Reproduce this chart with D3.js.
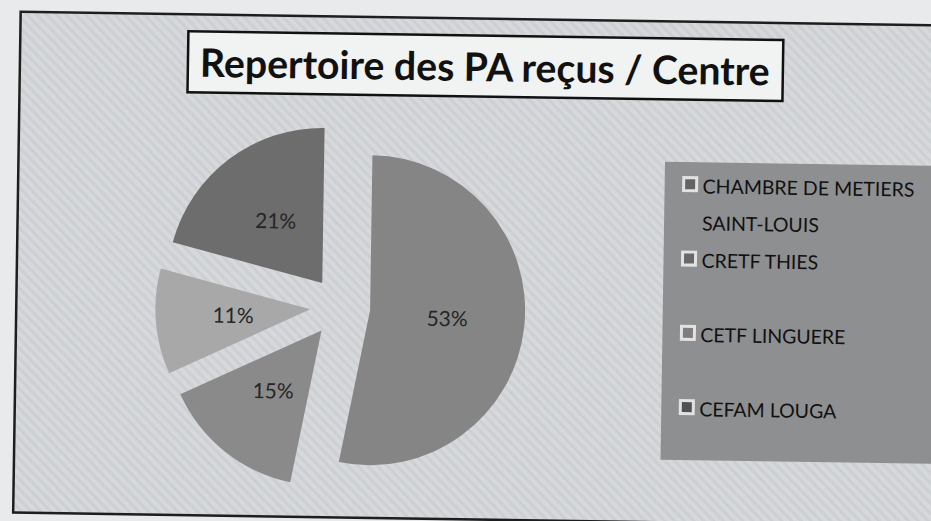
<!DOCTYPE html>
<html>
<head>
<meta charset="utf-8">
<script src="https://cdn.jsdelivr.net/npm/d3@7"></script>
<style>
  html, body { margin: 0; padding: 0; background: #e9eaec; }
  svg { display: block; }
</style>
</head>
<body>
<div id="chart"></div>
<script>
(function() {
  'use strict';

  // data
  var categories = ["CHAMBRE DE METIERS SAINT-LOUIS", "CRETF THIES", "CETF LINGUERE", "CEFAM LOUGA"];
  var values = [53, 15, 11, 21];
  var titleText = "Repertoire des PA reçus / Centre";

  var width = 931, height = 521,
      center = {x: 341, y: 309},
      radius = 155,
      explode = 30;

  var color = d3.scaleOrdinal()
    .domain(categories)
    .range(["#858585", "#8a8a8a", "#a8a8a8", "#6d6d6d"]);

  var svg = d3.select("#chart")
    .append("svg")
    .attr("width", width)
    .attr("height", height);

  // faint diagonal moire of the scan
  var defs = svg.append("defs");
  var hatch = defs.append("pattern")
    .attr("id", "hatch")
    .attr("patternUnits", "userSpaceOnUse")
    .attr("width", 7)
    .attr("height", 7)
    .attr("patternTransform", "rotate(-45)");
  hatch.append("rect").attr("width", 7).attr("height", 7).attr("fill", "#d6d8db");
  hatch.append("rect").attr("width", 3).attr("height", 7).attr("fill", "#cdd0d3");

  // whole page is slightly tilted in the scan
  var root = svg.append("g")
    .attr("transform", "rotate(0.86, 475, 260)");

  root.append("rect")
    .attr("x", 17)
    .attr("y", 18.5)
    .attr("width", 960)
    .attr("height", 501)
    .attr("fill", "url(#hatch)")
    .attr("stroke", "#1e1e1e")
    .attr("stroke-width", 2.5);

  // title box
  root.append("rect")
    .attr("x", 185)
    .attr("y", 35.5)
    .attr("width", 595)
    .attr("height", 61)
    .attr("fill", "#f1f2f2")
    .attr("stroke", "#111")
    .attr("stroke-width", 2.5);

  var title = root.append("text")
    .attr("x", 482)
    .attr("y", 81)
    .attr("text-anchor", "middle")
    .attr("font-family", "Lato, 'Open Sans', sans-serif")
    .attr("font-weight", "bold")
    .attr("font-size", "36px")
    .attr("fill", "#111")
    .text(titleText);
  var tl = title.node().getComputedTextLength();
  title.attr("font-size", (36 * 570 / tl) + "px");

  // exploded pie
  var pie = d3.pie().sort(null).value(function(d) { return d; });
  var arc = d3.arc().innerRadius(0).outerRadius(radius);
  var arcs = pie(values);

  var slices = root.append("g")
    .attr("transform", "translate(" + center.x + "," + center.y + ")")
    .selectAll("g.slice")
    .data(arcs)
    .enter().append("g")
    .attr("class", "slice")
    .attr("transform", function(d) {
      var mid = (d.startAngle + d.endAngle) / 2;
      return "translate(" + (explode * Math.sin(mid)) + "," + (-explode * Math.cos(mid)) + ")";
    });

  slices.append("path")
    .attr("d", arc)
    .attr("fill", function(d, i) { return color(categories[i]); });

  var total = d3.sum(values);
  slices.append("text")
    .attr("transform", function(d) { return "translate(" + arc.centroid(d) + ")"; })
    .attr("dy", "0.35em")
    .attr("text-anchor", "middle")
    .attr("font-family", "Lato, 'Open Sans', sans-serif")
    .attr("font-size", "21px")
    .attr("fill", "#262626")
    .text(function(d) { return Math.round(d.data / total * 100) + "%"; });

  // legend
  var legend = root.append("g")
    .attr("transform", "translate(663.5,159)");

  legend.append("rect")
    .attr("width", 300)
    .attr("height", 298)
    .attr("fill", "#8e8f90");

  var lineHeight = 37,
      itemStep = 74.3,
      firstBase = 31,
      textX = 38;

  var items = legend.selectAll("g.item")
    .data(categories)
    .enter().append("g")
    .attr("class", "item")
    .attr("transform", function(d, i) { return "translate(0," + (firstBase + i * itemStep) + ")"; });

  items.append("rect")
    .attr("x", 19)
    .attr("y", -15.5)
    .attr("width", 13)
    .attr("height", 13)
    .attr("fill", function(d) { return d3.color(color(d)).darker(0.8); })
    .attr("stroke", "#e2e2e2")
    .attr("stroke-width", 3);

  var legendText = items.append("text")
    .attr("x", textX)
    .attr("y", 0)
    .attr("font-family", "Lato, 'Open Sans', sans-serif")
    .attr("font-size", "19.5px")
    .attr("fill", "#111");

  // wrap long names on two lines like the original legend
  legendText.each(function(d) {
    var t = d3.select(this),
        words = d.split(" "),
        line = [],
        tspan = t.append("tspan").attr("x", textX).attr("dy", 0);
    words.forEach(function(w) {
      line.push(w);
      tspan.text(line.join(" "));
      if (tspan.node().getComputedTextLength() > 232 && line.length > 1) {
        line.pop();
        tspan.text(line.join(" "));
        line = [w];
        tspan = t.append("tspan").attr("x", textX).attr("dy", lineHeight).text(w);
      }
    });
  });
})();
</script>
</body>
</html>
